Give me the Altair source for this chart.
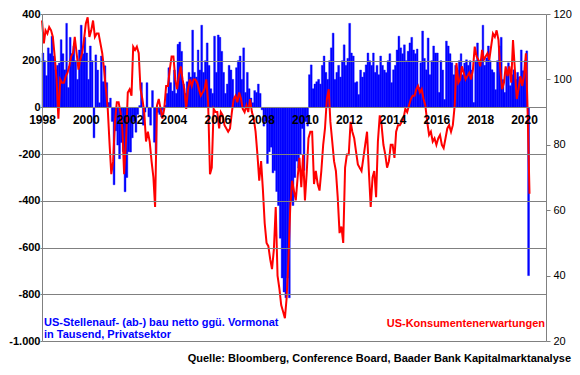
import altair as alt
import pandas as pd

# ---- monthly private payroll change (thousands), left axis ----
jobs_1998 = [233, 200, 136, 255, 230, 305, 220, 161, 180, 190, 290, 230]
jobs_1999 = [161, 360, 85, 300, 230, 263, 200, 120, 246, 352, 230, 300]
jobs_2000 = [233, 120, 263, 200, -130, 225, 160, 20, 220, 110, 178, 106]
jobs_2001 = [21, 40, -60, -331, -100, -161, -220, -150, -190, -361, -300, -190]
jobs_2002 = [-191, -130, -60, -106, -30, 8, 106, -76, -20, 106, -40, -76]
jobs_2003 = [72, -149, -204, -21, -30, -40, -10, 10, 60, 170, 106, 70]
jobs_2004 = [160, 60, 270, 280, 240, 100, 60, 110, 150, 130, 331, 150]
jobs_2005 = [130, 246, 160, 352, 150, 200, 276, 180, 80, 60, 305, 150]
jobs_2006 = [310, 300, 240, 150, 60, 100, 180, 160, 120, 40, 170, 200]
jobs_2007 = [220, 120, 255, 64, 150, 80, 40, 20, 72, 64, 100, 60]
jobs_2008 = [-10, -80, -60, -240, -190, -170, -280, -270, -360, -420, -560, -730]
jobs_2009 = [-790, -815, -730, -815, -400, -420, -300, -230, -260, -200, -90, -270]
jobs_2010 = [-60, -80, 140, 182, 80, 100, 110, 120, 100, 180, 220, 150]
jobs_2011 = [120, 200, 255, 318, 120, 150, 180, 130, 200, 268, 180, 210]
jobs_2012 = [360, 233, 220, 106, 110, 55, 160, 130, 150, 182, 233, 200]
jobs_2013 = [180, 233, 150, 180, 140, 220, 180, 160, 149, 200, 230, 106]
jobs_2014 = [161, 180, 246, 305, 255, 230, 268, 200, 240, 276, 300, 246]
jobs_2015 = [230, 250, 85, 191, 327, 210, 161, 297, 140, 200, 263, 233]
jobs_2016 = [233, 64, 200, 160, 34, 284, 263, 230, 191, 140, 180, 160]
jobs_2017 = [200, 230, 140, 190, 204, 180, 200, 160, 21, 200, 276, 200]
jobs_2018 = [200, 352, 180, 212, 263, 200, 161, 150, 76, 200, 263, 300]
jobs_2019 = [119, 64, 160, 191, 93, 140, 161, 120, 150, 130, 246, 157]
jobs_2020 = [200, 242, -720]

# ---- Conference Board consumer expectations, right axis ----
exp_1998 = [118, 111, 115, 114, 116, 115, 113, 107, 100, 88, 100, 99]
exp_1999 = [99, 101, 102, 104, 107, 108, 113, 108, 103, 106, 108, 112]
exp_2000 = [117, 119, 113, 115, 118, 113, 114, 114, 111, 108, 103, 97]
exp_2001 = [91, 80, 71, 75, 87, 93, 93, 90, 85, 71, 81, 96]
exp_2002 = [97, 95, 110, 109, 110, 108, 97, 94, 90, 81, 84, 81]
exp_2003 = [75, 70, 61, 92, 94, 91, 88, 91, 98, 98, 103, 107]
exp_2004 = [107, 100, 97, 101, 104, 100, 97, 91, 97, 100, 98, 100]
exp_2005 = [100, 99, 97, 95, 96, 97, 100, 93, 71, 73, 91, 90]
exp_2006 = [90, 85, 90, 89, 86, 85, 84, 85, 90, 94, 95, 93]
exp_2007 = [96, 94, 91, 90, 92, 90, 94, 90, 88, 84, 77, 69]
exp_2008 = [75, 66, 56, 50, 49, 45, 42, 48, 61, 40, 36, 31]
exp_2009 = [29, 27, 33, 45, 61, 69, 66, 63, 70, 76, 67, 77]
exp_2010 = [63, 72, 82, 84, 84, 68, 72, 68, 66, 72, 80, 85]
exp_2011 = [94, 97, 87, 81, 75, 72, 64, 53, 55, 50, 73, 77]
exp_2012 = [77, 87, 84, 82, 78, 74, 73, 72, 76, 80, 84, 72]
exp_2013 = [61, 70, 72, 64, 81, 89, 86, 80, 77, 73, 75, 80]
exp_2014 = [80, 76, 84, 86, 86, 87, 88, 91, 90, 92, 94, 95]
exp_2015 = [95, 97, 98, 96, 97, 94, 92, 87, 83, 84, 81, 82]
exp_2016 = [80, 82, 83, 80, 79, 82, 85, 86, 84, 86, 92, 105]
exp_2017 = [99, 100, 104, 102, 100, 101, 102, 100, 103, 110, 107, 106]
exp_2018 = [104, 109, 106, 107, 108, 106, 110, 114, 113, 115, 112, 103]
exp_2019 = [97, 99, 104, 101, 104, 99, 112, 103, 94, 97, 101, 98]
exp_2020 = [101, 108, 90, 65]

year_ticks = list(range(1998, 2021, 2))
left_ticks = [-1000, -800, -600, -400, -200, 0, 200, 400]
right_ticks = [20, 40, 60, 80, 100, 120]

label_jobs = ["US-Stellenauf- (ab-) bau netto ggü. Vormonat", "in Tausend, Privatsektor"]
label_exp = "US-Konsumentenerwartungen"
label_src = "Quelle: Bloomberg, Conference Board, Baader Bank Kapitalmarktanalyse"

jobs = [jobs_1998, jobs_1999, jobs_2000, jobs_2001, jobs_2002, jobs_2003, jobs_2004,
        jobs_2005, jobs_2006, jobs_2007, jobs_2008, jobs_2009, jobs_2010, jobs_2011,
        jobs_2012, jobs_2013, jobs_2014, jobs_2015, jobs_2016, jobs_2017, jobs_2018,
        jobs_2019, jobs_2020]
exps = [exp_1998, exp_1999, exp_2000, exp_2001, exp_2002, exp_2003, exp_2004,
        exp_2005, exp_2006, exp_2007, exp_2008, exp_2009, exp_2010, exp_2011,
        exp_2012, exp_2013, exp_2014, exp_2015, exp_2016, exp_2017, exp_2018,
        exp_2019, exp_2020]

rows = []
for i, vals in enumerate(jobs):
    for m, v in enumerate(vals):
        s = pd.Timestamp(1998 + i, m + 1, 1)
        rows.append({"start": s, "end": s + pd.offsets.MonthBegin(1), "jobs": v})
df_jobs = pd.DataFrame(rows)

rows = []
for i, vals in enumerate(exps):
    for m, v in enumerate(vals):
        rows.append({"date": pd.Timestamp(1998 + i, m + 1, 1), "exp": v})
df_exp = pd.DataFrame(rows)

FONT = "Liberation Sans"
GRID = "#808080"
W, H = 504, 327
ZERO_OFFSET = -round(H * 1000 / 1400)

xscale = alt.Scale(domain=[alt.DateTime(year=1998, month=1, date=1),
                           alt.DateTime(year=2021, month=1, date=1)], nice=False)

xaxis = alt.Axis(values=[alt.DateTime(year=y, month=1, date=1) for y in year_ticks],
                 format="%Y", labelFlush=False, labelOverlap=False, domain=False,
                 ticks=False, grid=False, offset=ZERO_OFFSET, labelPadding=7,
                 labelFont=FONT, labelFontSize=12, labelFontWeight="bold",
                 labelColor="black", title=None, zindex=1)

bars = alt.Chart(df_jobs).mark_bar(color="#0000FF", stroke="#0000FF", strokeWidth=0.4).encode(
    x=alt.X("start:T", scale=xscale, axis=xaxis),
    x2="end:T",
    y=alt.Y("jobs:Q", scale=alt.Scale(domain=[-1000, 400], nice=False),
            axis=alt.Axis(values=left_ticks, grid=True, gridColor=GRID, gridWidth=1,
                          gridOpacity=1, domainColor=GRID, tickColor=GRID, tickSize=2,
                          labelFont=FONT, labelFontSize=11, labelFontWeight="bold",
                          labelColor="black", labelPadding=0, title=None, zindex=1,
                          labelExpr="(datum.value < 0 ? '-' : '') + replace(format(abs(datum.value), ','), ',', '.')")),
    y2=alt.datum(0),
)

line = alt.Chart(df_exp).mark_line(color="#FF0000", strokeWidth=2).encode(
    x=alt.X("date:T", scale=xscale),
    y=alt.Y("exp:Q", scale=alt.Scale(domain=[20, 120], nice=False),
            axis=alt.Axis(orient="right", values=right_ticks, grid=False,
                          domainColor=GRID, tickColor=GRID, tickSize=4,
                          labelFont=FONT, labelFontSize=11, labelColor="black",
                          labelPadding=3, title=None)),
)

one = pd.DataFrame({"k": [0]})


def note(text, x, y, align, color):
    return alt.Chart(one).mark_text(align=align, baseline="alphabetic", font=FONT,
                                    fontSize=11, fontWeight="bold", color=color).encode(
        x=alt.value(x), y=alt.value(y), text=alt.value(text))


t_jobs1 = note(label_jobs[0], 2, 312, "left", "#0000FF")
t_jobs2 = note(label_jobs[1], 2, 324, "left", "#0000FF")
t_exp = note(label_exp, 503, 313, "right", "#FF0000")
t_src = note(label_src, 529, 348, "right", "black")

chart = alt.layer(bars, line, t_jobs1, t_jobs2, t_exp, t_src).resolve_scale(
    y="independent"
).properties(
    width=W, height=H,
    padding={"left": 34, "top": 6, "right": 26, "bottom": 23},
    autosize=alt.AutoSizeParams(type="none"),
    background="white",
).configure_view(stroke=None)

chart.save("out.html", embed_options={"renderer": "svg", "actions": False})
